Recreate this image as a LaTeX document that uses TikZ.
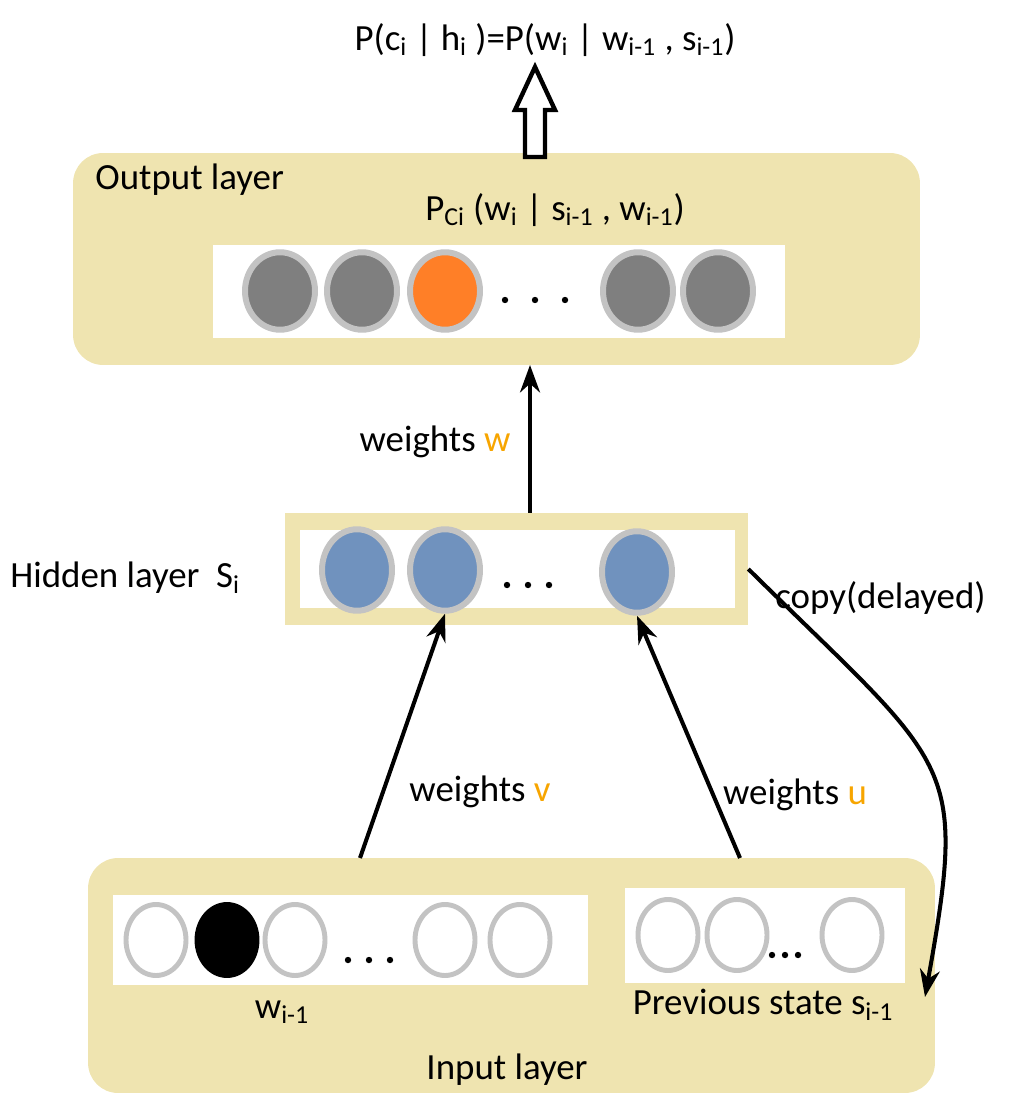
\documentclass[tikz,border=0pt]{standalone}
\usepackage{fontspec}
\setmainfont{Carlito}
\usetikzlibrary{positioning,shapes.geometric,arrows.meta}
\definecolor{khaki}{RGB}{239,228,176}
\definecolor{rim}{RGB}{195,195,195}
\definecolor{dark}{RGB}{127,127,127}
\definecolor{blu}{RGB}{112,146,190}
\definecolor{orng}{RGB}{255,127,39}
\definecolor{gold}{RGB}{247,165,0}
\def\ew{1.4cm}
\def\eh{1.55cm}
\newcommand{\sub}[1]{\textsubscript{#1}}
\newcommand{\unit}[5][]{\node[ellipse,minimum width=\ew,minimum height=\eh,draw=rim,line width=3.4pt,fill=#5,#1] (#4) at (#2,#3) {};}
\newcommand{\threedots}[3]{\fill (#1,#2) circle (3.2) (#1+#3,#2) circle (3.2) (#1+2*#3,#2) circle (3.2);}
\tikzset{
  lbl/.style={font=\fontsize{21}{25}\selectfont,inner sep=0pt},
  arr/.style={-{Stealth[length=0.55cm,width=0.4cm]},line width=2.3pt},
  panel/.style={fill=khaki,draw=none,rounded corners=0.6cm},
  sheet/.style={fill=white,draw=none},
  slim/.style={minimum width=1.2cm,minimum height=1.42cm,line width=2.8pt}
}
\begin{document}
\begin{tikzpicture}[x=0.02cm,y=-0.02cm]
\useasboundingbox (0,0) rectangle (1025,1094);
% output layer
\node[panel,minimum width=16.94cm,minimum height=4.24cm] (outbox) at (496.5,259) {};
\node[sheet,minimum width=11.44cm,minimum height=1.86cm] (outsheet) at (499,291.5) {};
\node[lbl,anchor=west] (outname) at (95,180) {Output layer};
\node[lbl] (pci) at (555,210) {P\sub{Ci} (w\sub{i} | s\sub{i-1} , w\sub{i-1})};
\unit{280}{291}{o1}{dark}
\unit{362}{291}{o2}{dark}
\unit{445}{291}{o3}{orng}
\unit{638}{291}{o4}{dark}
\unit{718}{291}{o5}{dark}
\threedots{505}{300}{30}
\node[lbl] (title) at (545,40) {P(c\sub{i} | h\sub{i} )=P(w\sub{i} | w\sub{i-1} , s\sub{i-1})};
\draw[line width=2.5pt,fill=white,line join=miter]
  (525,157) -- (525,110) -- (515,110) -- (535,67) -- (555,110) -- (545,110) -- (545,157) -- cycle;

% hidden layer
\node[fill=khaki,minimum width=9.26cm,minimum height=2.24cm] (hidbox) at (516.5,569) {};
\node[sheet,minimum width=8.7cm,minimum height=1.56cm] (hidsheet) at (517.5,569) {};
\unit[minimum height=1.63cm]{357}{570}{h1}{blu}
\unit[minimum height=1.63cm]{445}{570}{h2}{blu}
\unit[minimum height=1.63cm]{637}{572}{h3}{blu}
\threedots{507}{585}{21}
\node[lbl,anchor=west] (hidname) at (10,578) {Hidden layer \ S\sub{i}};
\node[lbl,anchor=west] (copy) at (775,598) {copy(delayed)};

% input layer
\node[panel,minimum width=16.94cm,minimum height=4.7cm] (inbox) at (511.5,975.5) {};
\node[sheet,minimum width=9.5cm,minimum height=1.8cm] (wsheet) at (350.5,940) {};
\node[sheet,minimum width=5.6cm,minimum height=1.9cm] (ssheet) at (765,935.5) {};
\unit[slim]{156}{940}{x1}{white}
\unit[slim,draw=black]{227}{940}{x2}{black}
\unit[slim]{295}{940}{x3}{white}
\unit[slim]{445}{940}{x4}{white}
\unit[slim]{520}{940}{x5}{white}
\threedots{348}{960}{21}
\unit[slim]{668}{935}{p1}{white}
\unit[slim]{737}{935}{p2}{white}
\unit[slim]{852}{935}{p3}{white}
\threedots{772}{955}{13}
\node[lbl] (wname) at (282,1012) {w\sub{i-1}};
\node[lbl] (sname) at (763,1005) {Previous state s\sub{i-1}};
\node[lbl] (inname) at (507,1070) {Input layer};

% connections
\coordinate (wtop) at (530,365);
\coordinate (vfoot) at (360,858);
\coordinate (ufoot) at (740,858);
\coordinate (cend) at (925,997);
\draw[arr] (hidbox.north -| wtop) -- (wtop);
\node[lbl] (wlbl) at (435,442) {weights \textcolor{gold}{w}};
\draw[arr] (vfoot) -- (h2.south);
\node[lbl] (vlbl) at (480,792) {weights \textcolor{gold}{v}};
\draw[arr] (ufoot) -- (h3.south);
\node[lbl] (ulbl) at (795,795) {weights \textcolor{gold}{u}};
\draw[arr] (hidbox.east) .. controls (952,770) and (968,757) .. (cend);
\end{tikzpicture}
\end{document}
